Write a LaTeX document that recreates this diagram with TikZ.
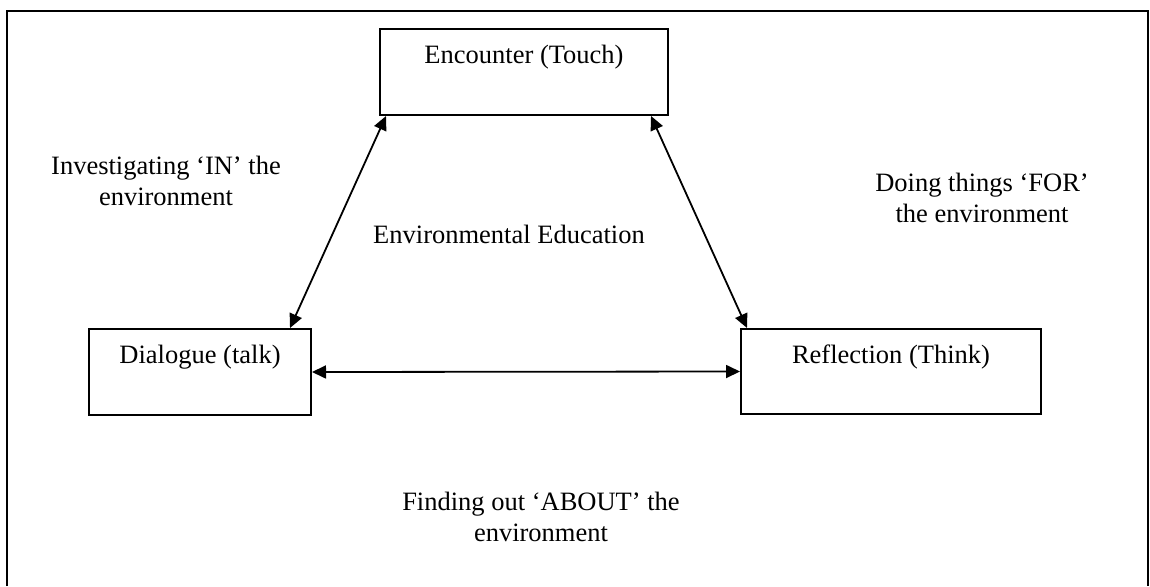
\documentclass[tikz,border=0pt]{standalone}
\usepackage{fontspec}
\setmainfont{Liberation Serif}
\usetikzlibrary{arrows.meta,calc}
\tikzset{
  box/.style={draw=black, line width=2pt, rectangle, inner sep=0pt},
  link/.style={line width=1.8pt, {Triangle[length=14pt,width=13pt]}-{Triangle[length=14pt,width=13pt]}},
  lbl/.style={font=\fontsize{26.5}{31}\selectfont, align=center, inner sep=0pt},
  frame/.style={line width=2.6pt}
}
\begin{document}
\begin{tikzpicture}[x=1pt,y=-1pt]
\useasboundingbox (0,0) rectangle (1150,586);
\draw[frame] (7,586) -- (7,11) -- (1148,11) -- (1148,586);
\node[box, minimum width=288pt, minimum height=86pt] (enc) at (524,72) {};
\node[lbl] (enct) at (524,57) {Encounter (Touch)};
\node[box, minimum width=222pt, minimum height=86pt] (dia) at (200,372) {};
\node[lbl] (diat) at (200,357) {Dialogue (talk)};
\node[box, minimum width=300pt, minimum height=85pt] (ref) at (891,371.5) {};
\node[lbl] (reft) at (891,357) {Reflection (Think)};
\draw[link] ($(enc.south west)+(7,0)$) -- ($(dia.north east)+(-22,0)$);
\draw[link] ($(enc.south east)+(-18,0)$) -- ($(ref.north west)+(7,0)$);
\draw[link] (dia.east) -- (ref.west);
\node[lbl] (inv) at (166,181) {Investigating `IN' the\\environment};
\node[lbl] (doing) at (982,198) {Doing things `FOR'\\the environment};
\node[lbl] (ee) at (509,234) {Environmental Education};
\node[lbl] (about) at (541,517) {Finding out `ABOUT' the\\environment};
\end{tikzpicture}
\end{document}
